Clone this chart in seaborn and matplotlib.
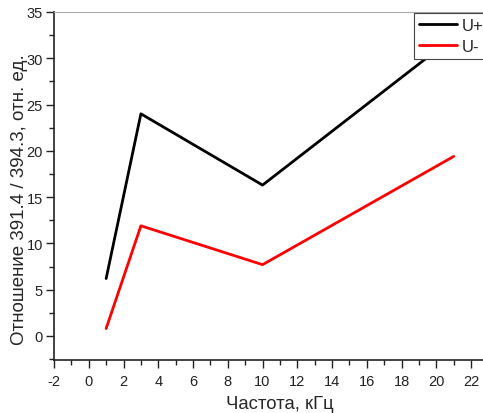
import matplotlib
matplotlib.use("Agg")
import matplotlib.pyplot as plt
import seaborn as sns
import pandas as pd
from matplotlib.ticker import MultipleLocator
from matplotlib.lines import Line2D

freq = [1, 3, 10, 21]
u_plus = [6.2, 24.0, 16.3, 32.3]
u_minus = [0.8, 11.9, 7.7, 19.4]
series_names = ["U+", "U-"]
colors = ["#000000", "#ff0000"]

df = pd.DataFrame({
    "x": freq * 2,
    "y": u_plus + u_minus,
    "s": [series_names[0]] * len(freq) + [series_names[1]] * len(freq),
})

sns.set_style("ticks")
plt.rcParams["font.family"] = ["Liberation Sans", "DejaVu Sans"]
plt.rcParams["axes.unicode_minus"] = False

W, H = 483, 414
fig = plt.figure(figsize=(W / 100, H / 100), dpi=100)
left, right_px, top_px, bot_px = 54, 54 + 26 * 17.38, 13, 361
ax = fig.add_axes([left / W, 1 - bot_px / H, (right_px - left) / W, (bot_px - top_px) / H])

sns.lineplot(data=df, x="x", y="y", hue="s", palette=colors, linewidth=2.0,
             ax=ax, legend=False, sort=False)

ax.set_xlim(-2, 24)
ax.set_ylim(-2.6, 35)
ax.xaxis.set_major_locator(MultipleLocator(2))
ax.xaxis.set_minor_locator(MultipleLocator(1))
ax.yaxis.set_major_locator(MultipleLocator(5))
ax.yaxis.set_minor_locator(MultipleLocator(2.5))
ax.set_xticks(range(-2, 23, 2))
ax.tick_params(axis="both", which="major", direction="out", length=6, width=1, labelsize=10.5, colors="#222222")
ax.tick_params(axis="both", which="minor", direction="out", length=3.5, width=1, color="#222222")
ax.tick_params(axis="x", pad=4)
ax.tick_params(axis="y", pad=2)
for sp in ["left", "bottom"]:
    ax.spines[sp].set_color("#222222")
    ax.spines[sp].set_linewidth(1.2)
ax.spines["top"].set_color("#aaaaaa")
ax.spines["top"].set_linewidth(0.8)
ax.spines["right"].set_visible(False)

ax.set_xlabel("Частота, кГц", fontsize=13.3, labelpad=5)
ax.set_ylabel("Отношение 391.4 / 394.3, отн. ед.", fontsize=13.5)
ax.yaxis.set_label_coords((28 - left) / (right_px - left), (bot_px - 200) / (bot_px - top_px))

handles = [Line2D([], [], color=c, linewidth=2.0) for c in colors]
leg = fig.legend(handles, series_names, loc="upper left",
                 bbox_to_anchor=(414 / W, 1 - 14 / H), frameon=True, fancybox=False,
                 framealpha=1, fontsize=12, handlelength=2.3, handletextpad=0.25,
                 borderpad=0.3, labelspacing=0.35, borderaxespad=0)
leg.set_zorder(10)
leg.get_frame().set_edgecolor("#444444")
leg.get_frame().set_linewidth(0.8)

fig.savefig("out.png", dpi=100)
